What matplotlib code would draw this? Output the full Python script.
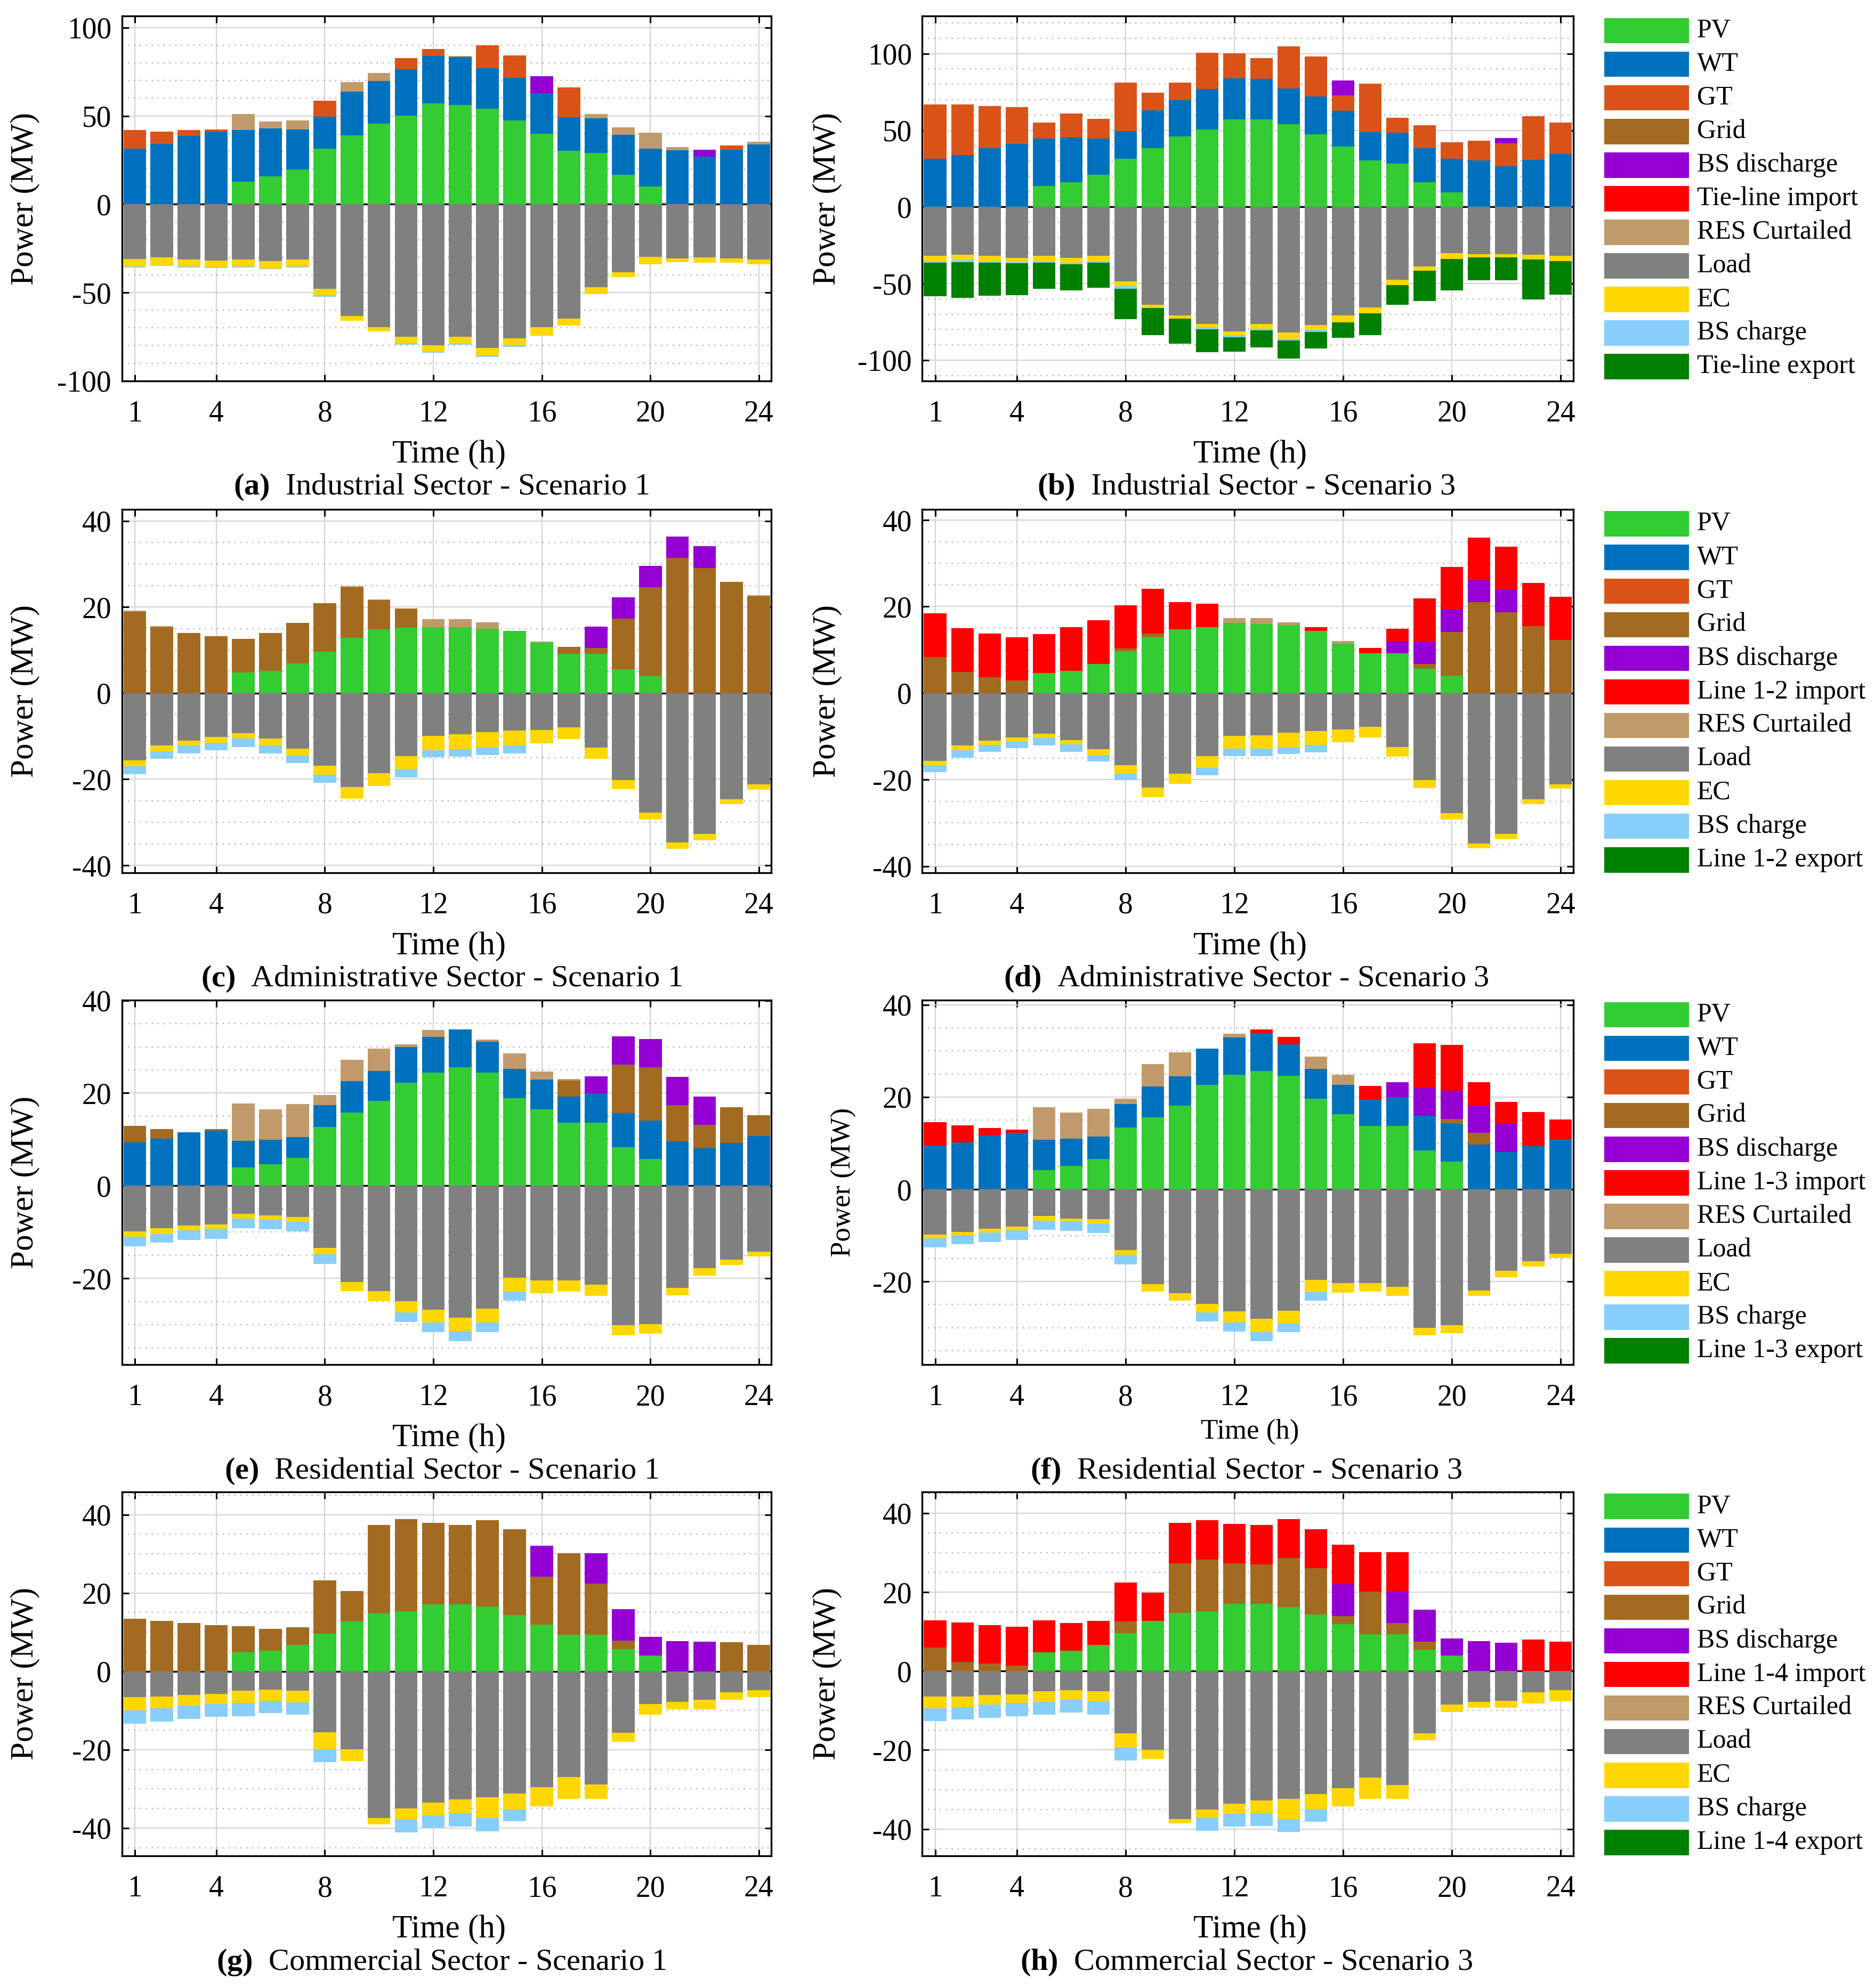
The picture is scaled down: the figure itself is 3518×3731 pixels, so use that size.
import matplotlib
matplotlib.use("Agg")
import matplotlib.pyplot as plt
from matplotlib.patches import Rectangle
from matplotlib.ticker import MultipleLocator
import numpy as np

plt.rcParams['font.family'] = ['Liberation Serif', 'DejaVu Serif']
plt.rcParams['axes.unicode_minus'] = False
plt.rcParams['mathtext.fontset'] = 'custom'
plt.rcParams['mathtext.rm'] = 'Liberation Serif'
plt.rcParams['mathtext.bf'] = 'Liberation Serif:bold'

hours = list(range(1, 25))
xticks = [1, 4, 8, 12, 16, 20, 24]

# ---------------- (a) Industrial Sector - Scenario 1 ----------------
a_pv = [0, 0, 0, 0, 12.9, 15.7, 19.8, 31.6, 38.9, 45.7, 50.3, 57.1, 56.2, 54.2, 47.5, 39.9, 30.3, 29.1, 16.8, 10.1, 0, 0, 0, 0]
a_wt = [31.6, 34.3, 38.8, 41.0, 29.1, 27.3, 22.6, 18.1, 24.8, 24.0, 26.2, 26.8, 27.0, 22.9, 24.1, 22.8, 19.0, 19.7, 22.4, 21.5, 30.5, 27.0, 30.9, 33.9]
a_gt = [10.4, 6.7, 3.2, 1.2, 0, 0, 0, 8.9, 0, 0, 6.3, 4.1, 0, 12.8, 12.6, 0, 16.9, 0, 0, 0, 0, 0, 2.3, 0]
a_bsdis = [0, 0, 0, 0, 0, 0, 0, 0, 0, 0, 0, 0, 0, 0, 0, 9.7, 0, 0, 0, 0, 0, 3.9, 0, 0]
a_curt = [0, 0, 0, 0, 9.2, 3.7, 5.0, 0, 5.6, 4.7, 0, 0, 0.8, 0, 0, 0, 0, 2.3, 4.2, 9.0, 1.8, 0, 0, 1.6]
a_load = [31.0, 30.0, 31.2, 32.0, 31.2, 32.1, 31.2, 47.8, 63.3, 69.5, 75.1, 79.9, 75.1, 81.3, 75.8, 69.5, 64.7, 47.1, 38.4, 29.8, 30.7, 30.0, 30.7, 31.2]
a_ec = [4.2, 4.5, 4.0, 3.6, 4.1, 4.2, 4.1, 3.7, 2.8, 2.4, 3.4, 3.5, 3.7, 4.2, 4.1, 4.9, 3.9, 3.7, 2.7, 4.1, 2.1, 3.1, 2.4, 2.7]
a_bsch = [0.7, 0.5, 0.7, 0.5, 0.5, 0.5, 0.5, 1.0, 0, 0, 1.0, 0.6, 0.8, 1.1, 1.0, 0, 0, 0, 0, 0, 0, 0, 0, 0]

# ---------------- (b) Industrial Sector - Scenario 3 ----------------
b_pv = [0, 0, 0, 0, 13.6, 16.0, 20.8, 31.5, 38.4, 45.9, 50.4, 57.1, 57.1, 54.1, 47.5, 39.5, 30.4, 28.3, 16.0, 9.6, 0, 0, 0, 0]
b_wt = [31.5, 33.9, 38.4, 41.1, 30.9, 29.3, 23.7, 18.1, 24.8, 23.7, 26.4, 26.9, 26.6, 23.2, 24.5, 23.2, 18.4, 20.0, 22.4, 21.9, 30.4, 26.4, 30.7, 34.4]
b_gt = [35.2, 33.1, 27.5, 24.0, 10.4, 15.5, 13.1, 31.5, 11.2, 11.5, 23.7, 16.3, 13.4, 27.5, 26.1, 10.1, 31.7, 9.8, 14.9, 10.6, 12.8, 15.2, 28.5, 20.5]
b_bsdis = [0, 0, 0, 0, 0, 0, 0, 0, 0, 0, 0, 0, 0, 0, 0, 9.6, 0, 0, 0, 0, 0, 3.5, 0, 0]
b_load = [32.0, 31.2, 32.0, 33.1, 32.0, 33.1, 32.0, 48.5, 64.0, 70.7, 76.3, 81.3, 76.3, 82.1, 77.1, 70.9, 65.6, 47.5, 38.9, 30.1, 30.9, 30.9, 31.2, 32.0]
b_ec = [3.2, 3.5, 3.2, 2.9, 3.2, 3.2, 3.2, 3.2, 2.1, 2.1, 2.1, 2.2, 3.2, 4.0, 3.2, 4.3, 3.7, 3.4, 2.7, 4.0, 1.9, 1.9, 3.2, 3.2]
b_bsch = [1.1, 1.3, 1.1, 0.8, 1.3, 1.0, 1.1, 1.6, 0, 0, 1.3, 1.6, 1.0, 1.1, 1.3, 0, 0, 0, 0, 0, 0, 0, 0, 0]
b_exp = [22.1, 23.2, 21.8, 20.8, 17.1, 17.1, 16.5, 20.0, 17.4, 16.3, 15.2, 9.3, 11.0, 11.7, 10.7, 10.1, 14.2, 13.1, 19.7, 20.3, 14.9, 14.9, 25.9, 21.9]

# ---------------- (c) Administrative Sector - Scenario 1 ----------------
c_pv = [0, 0, 0, 0, 4.8, 5.2, 6.9, 9.6, 12.8, 14.8, 15.2, 15.3, 15.3, 14.9, 14.5, 11.7, 9.2, 9.2, 5.6, 4.0, 0, 0, 0, 0]
c_grid = [18.9, 15.3, 14.0, 13.2, 7.8, 8.8, 9.4, 11.3, 11.8, 6.8, 4.4, 0, 0, 0, 0, 0, 1.6, 1.3, 11.7, 20.6, 31.4, 29.1, 25.9, 22.5]
c_bsdis = [0, 0, 0, 0, 0, 0, 0, 0, 0, 0, 0, 0, 0, 0, 0, 0, 0, 5.0, 5.0, 5.0, 5.0, 5.1, 0, 0]
c_curt = [0.3, 0.3, 0, 0, 0, 0, 0, 0, 0.3, 0.2, 0, 1.9, 1.9, 1.5, 0, 0.3, 0, 0, 0, 0, 0, 0, 0, 0.2]
c_load = [15.6, 12.1, 11.0, 10.2, 9.35, 10.6, 12.9, 16.9, 21.8, 18.6, 14.6, 9.9, 9.6, 9.1, 8.7, 8.5, 7.9, 12.7, 20.2, 27.7, 34.7, 32.7, 24.6, 21.2]
c_ec = [1.4, 1.4, 1.2, 1.3, 1.25, 1.5, 1.6, 2.1, 2.7, 3.0, 3.0, 3.3, 3.4, 3.4, 3.4, 3.1, 2.8, 2.6, 2.1, 1.7, 1.4, 1.5, 1.2, 1.2]
c_bsch = [1.8, 1.8, 1.8, 1.8, 1.9, 1.9, 1.7, 1.8, 0, 0, 2.0, 1.7, 1.8, 1.9, 1.9, 0, 0, 0, 0, 0, 0, 0, 0, 0]

# ---------------- (d) Administrative Sector - Scenario 3 ----------------
d_pv = [0, 0, 0, 0, 4.7, 5.2, 6.8, 9.7, 12.9, 14.8, 15.2, 16.2, 16.0, 15.8, 14.4, 11.5, 9.2, 9.2, 5.6, 4.1, 0, 0, 0, 0]
d_grid = [8.4, 4.9, 3.7, 2.9, 0, 0, 0, 0.6, 0.9, 0, 0, 0, 0, 0, 0, 0, 0, 0, 1.2, 10.0, 21.0, 18.7, 15.5, 12.3]
d_bsdis = [0, 0, 0, 0, 0, 0, 0, 0, 0, 0, 0, 0, 0, 0, 0, 0, 0, 2.7, 5.1, 5.3, 5.1, 5.3, 0, 0]
d_imp = [10.1, 10.1, 10.1, 10.0, 9.0, 10.0, 10.0, 10.0, 10.3, 6.3, 5.5, 0, 0, 0, 0.9, 0, 1.2, 3.0, 10.0, 9.8, 9.9, 9.8, 10.0, 10.0]
d_curt = [0, 0, 0, 0, 0, 0, 0, 0, 0, 0, 0, 1.1, 1.3, 0.6, 0, 0.6, 0, 0, 0, 0, 0, 0, 0, 0]
d_load = [15.6, 12.1, 11.0, 10.2, 9.4, 10.8, 12.9, 16.7, 21.8, 18.6, 14.5, 9.9, 9.7, 9.1, 8.8, 8.4, 7.8, 12.5, 20.1, 27.7, 34.8, 32.5, 24.5, 21.1]
d_ec = [1.0, 1.1, 1.0, 1.0, 1.0, 1.1, 1.4, 1.9, 2.2, 2.4, 2.8, 2.9, 3.1, 3.3, 3.2, 3.0, 2.5, 2.2, 1.8, 1.5, 1.1, 1.3, 1.1, 1.0]
d_bsch = [1.7, 1.7, 1.6, 1.5, 1.7, 1.7, 1.5, 1.5, 0, 0, 1.7, 1.7, 1.7, 1.7, 1.7, 0, 0, 0, 0, 0, 0, 0, 0, 0]

# ---------------- (e) Residential Sector - Scenario 1 ----------------
e_pv = [0, 0, 0, 0, 3.9, 4.6, 6.0, 12.7, 15.8, 18.3, 22.2, 24.4, 25.6, 24.4, 18.9, 16.5, 13.6, 13.6, 8.3, 5.8, 0, 0, 0, 0]
e_wt = [9.4, 10.2, 11.5, 11.9, 5.8, 5.3, 4.5, 4.7, 6.8, 6.5, 7.7, 7.7, 8.1, 6.7, 6.3, 6.4, 5.6, 6.3, 7.4, 8.3, 9.6, 8.1, 9.2, 10.7]
e_grid = [3.5, 2.0, 0, 0.3, 0, 0, 0, 0, 0, 0, 0, 0, 0, 0, 0, 0, 3.5, 0, 10.5, 11.5, 7.8, 5.1, 7.8, 4.5]
e_bsdis = [0, 0, 0, 0, 0, 0, 0, 0, 0, 0, 0, 0, 0, 0, 0, 0, 0, 3.7, 6.0, 6.1, 6.1, 6.0, 0, 0]
e_curt = [0, 0, 0, 0, 8.0, 6.6, 7.1, 2.2, 4.6, 4.8, 0.6, 1.5, 0, 0.5, 3.4, 1.7, 0.3, 0, 0, 0, 0, 0, 0, 0]
e_load = [9.8, 9.2, 8.6, 8.3, 6.1, 6.4, 6.7, 13.4, 20.8, 22.7, 24.9, 26.8, 28.5, 26.5, 19.8, 20.4, 20.4, 21.3, 30.1, 29.8, 22.0, 17.8, 15.9, 14.2]
e_ec = [1.2, 1.2, 1.0, 1.0, 1.0, 0.9, 1.1, 1.4, 1.9, 2.2, 2.4, 2.7, 2.9, 3.0, 3.0, 2.8, 2.4, 2.5, 2.2, 2.1, 1.6, 1.6, 1.2, 1.1]
e_bsch = [2.1, 1.9, 2.1, 2.1, 2.1, 2.1, 2.1, 2.1, 0, 0, 2.1, 2.1, 2.1, 2.1, 2.0, 0, 0, 0, 0, 0, 0, 0, 0, 0]

# ---------------- (f) Residential Sector - Scenario 3 ----------------
f_pv = [0, 0, 0, 0, 4.2, 5.1, 6.6, 13.4, 15.6, 18.2, 22.7, 24.9, 25.6, 24.6, 19.6, 16.3, 13.8, 13.8, 8.4, 6.0, 0, 0, 0, 0]
f_wt = [9.5, 10.2, 11.7, 12.3, 6.6, 5.9, 4.9, 5.1, 6.7, 6.3, 7.8, 8.0, 8.2, 6.8, 6.5, 6.4, 5.6, 6.2, 7.5, 8.2, 9.7, 8.1, 9.4, 10.9]
f_grid = [0, 0, 0, 0, 0, 0, 0, 0, 0, 0, 0, 0, 0, 0, 0, 0, 0, 0, 0, 1.0, 2.5, 0, 0, 0]
f_bsdis = [0, 0, 0, 0, 0, 0, 0, 0, 0, 0, 0, 0, 0, 0, 0, 0, 0, 3.2, 6.0, 6.2, 6.0, 6.1, 0, 0]
f_imp = [5.1, 3.7, 1.6, 0.6, 0, 0, 0, 0, 0, 0, 0, 0, 0.9, 1.6, 0, 0, 3.0, 0, 9.8, 9.9, 5.0, 4.7, 7.4, 4.2]
f_curt = [0, 0, 0, 0, 7.0, 5.7, 6.0, 1.1, 4.8, 5.2, 0, 0.8, 0, 0, 2.7, 2.1, 0, 0, 0, 0, 0, 0, 0, 0]
f_load = [9.8, 9.2, 8.5, 8.1, 5.8, 6.3, 6.5, 13.2, 20.6, 22.5, 24.8, 26.5, 28.1, 26.3, 19.6, 20.3, 20.3, 21.1, 30.0, 29.5, 21.9, 17.7, 15.6, 14.0]
f_ec = [0.8, 0.7, 0.9, 0.8, 1.0, 0.6, 1.0, 1.0, 1.6, 1.6, 1.9, 2.4, 2.8, 2.8, 2.7, 2.1, 1.9, 2.0, 1.6, 1.7, 1.2, 1.3, 1.1, 0.9]
f_bsch = [2.0, 2.0, 2.0, 2.1, 2.0, 2.1, 2.0, 2.1, 0, 0, 1.9, 1.9, 2.0, 1.8, 1.8, 0, 0, 0, 0, 0, 0, 0, 0, 0]

# ---------------- (g) Commercial Sector - Scenario 1 ----------------
g_pv = [0, 0, 0, 0, 4.8, 5.2, 6.8, 9.6, 12.7, 14.8, 15.3, 17.1, 17.1, 16.5, 14.4, 11.9, 9.3, 9.3, 5.7, 4.0, 0, 0, 0, 0]
g_grid = [13.4, 12.9, 12.3, 11.8, 6.7, 5.7, 4.5, 13.6, 7.8, 22.6, 23.6, 20.8, 20.3, 22.1, 21.9, 12.3, 20.9, 13.1, 2.2, 0, 0, 0, 7.4, 6.8]
g_bsdis = [0, 0, 0, 0, 0, 0, 0, 0, 0, 0, 0, 0, 0, 0, 0, 7.8, 0, 7.8, 8.0, 4.8, 7.7, 7.6, 0, 0]
g_load = [6.5, 6.4, 6.0, 5.7, 5.0, 4.6, 5.0, 15.6, 19.9, 37.5, 35.0, 33.5, 32.7, 32.2, 31.2, 29.6, 27.0, 28.9, 15.7, 8.3, 7.8, 7.3, 5.3, 4.8]
g_ec = [3.4, 3.0, 2.8, 2.6, 3.1, 2.9, 2.9, 4.3, 3.0, 1.6, 2.8, 3.2, 3.5, 5.3, 4.0, 4.8, 5.5, 3.6, 2.3, 2.7, 1.9, 2.4, 1.9, 1.8]
g_bsch = [3.4, 3.4, 3.3, 3.3, 3.3, 3.2, 3.2, 3.3, 0, 0, 3.3, 3.2, 3.4, 3.3, 3.1, 0, 0, 0, 0, 0, 0, 0, 0, 0]

# ---------------- (h) Commercial Sector - Scenario 3 ----------------
h_pv = [0, 0, 0, 0, 4.7, 5.2, 6.7, 9.6, 12.7, 14.8, 15.2, 17.1, 17.1, 16.3, 14.3, 11.9, 9.3, 9.3, 5.5, 3.9, 0, 0, 0, 0]
h_grid = [6.0, 2.4, 1.9, 1.4, 0, 0, 0, 3.0, 0, 12.5, 13.1, 10.2, 10.0, 12.3, 11.8, 2.1, 10.8, 2.9, 2.0, 0, 0, 0, 0, 0]
h_bsdis = [0, 0, 0, 0, 0, 0, 0, 0, 0, 0, 0, 0, 0, 0, 0, 8.1, 0, 7.9, 8.0, 4.4, 7.6, 7.2, 0, 0]
h_imp = [6.8, 9.9, 9.8, 9.8, 8.1, 7.0, 6.0, 9.9, 7.2, 10.2, 10.0, 10.0, 9.9, 9.9, 9.9, 9.9, 10.1, 10.1, 0, 0, 0, 0, 8.0, 7.5]
h_load = [6.5, 6.5, 6.0, 5.9, 5.1, 4.8, 5.1, 15.7, 20.0, 37.5, 35.0, 33.5, 32.7, 32.3, 31.2, 29.6, 27.0, 28.9, 15.7, 8.4, 7.8, 7.5, 5.3, 4.8]
h_ec = [2.9, 2.6, 2.5, 2.2, 2.7, 2.5, 2.5, 3.7, 2.2, 1.1, 2.1, 2.6, 3.3, 5.2, 3.7, 4.7, 5.3, 3.4, 1.8, 2.0, 1.5, 1.8, 2.9, 2.8]
h_bsch = [3.3, 3.1, 3.3, 3.3, 3.2, 3.2, 3.4, 3.3, 0, 0, 3.3, 3.3, 3.3, 3.2, 3.2, 0, 0, 0, 0, 0, 0, 0, 0, 0]

# ---------------- legend labels ----------------
legend_common_1 = ["PV", "WT", "GT", "Grid", "BS discharge"]
legend_common_2 = ["RES Curtailed", "Load", "EC", "BS charge"]
line_names = ["Tie-line", "Line 1-2", "Line 1-3", "Line 1-4"]

captions = [("(a)", "Industrial Sector - Scenario 1"), ("(b)", "Industrial Sector - Scenario 3"),
            ("(c)", "Administrative Sector - Scenario 1"), ("(d)", "Administrative Sector - Scenario 3"),
            ("(e)", "Residential Sector - Scenario 1"), ("(f)", "Residential Sector - Scenario 3"),
            ("(g)", "Commercial Sector - Scenario 1"), ("(h)", "Commercial Sector - Scenario 3")]

COLORS = {
    "PV": "#33CC33", "WT": "#0072BD", "GT": "#D95319", "Grid": "#A36A21",
    "BSdis": "#9400D3", "Imp": "#FF0000", "Curt": "#C19A6B",
    "Load": "#808080", "EC": "#FFD700", "BSch": "#87CEFA", "Exp": "#008000",
}
LEG_KEYS = ["PV", "WT", "GT", "Grid", "BSdis", "Imp", "Curt", "Load", "EC", "BSch", "Exp"]
POS_ORDER = ["PV", "WT", "GT", "Grid", "BSdis", "Imp", "Curt"]
NEG_ORDER = ["Load", "EC", "BSch", "Exp"]

panels = [
    dict(PV=a_pv, WT=a_wt, GT=a_gt, BSdis=a_bsdis, Curt=a_curt, Load=a_load, EC=a_ec, BSch=a_bsch),
    dict(PV=b_pv, WT=b_wt, GT=b_gt, BSdis=b_bsdis, Load=b_load, EC=b_ec, BSch=b_bsch, Exp=b_exp),
    dict(PV=c_pv, Grid=c_grid, BSdis=c_bsdis, Curt=c_curt, Load=c_load, EC=c_ec, BSch=c_bsch),
    dict(PV=d_pv, Grid=d_grid, BSdis=d_bsdis, Imp=d_imp, Curt=d_curt, Load=d_load, EC=d_ec, BSch=d_bsch),
    dict(PV=e_pv, WT=e_wt, Grid=e_grid, BSdis=e_bsdis, Curt=e_curt, Load=e_load, EC=e_ec, BSch=e_bsch),
    dict(PV=f_pv, WT=f_wt, Grid=f_grid, BSdis=f_bsdis, Imp=f_imp, Curt=f_curt, Load=f_load, EC=f_ec, BSch=f_bsch),
    dict(PV=g_pv, Grid=g_grid, BSdis=g_bsdis, Load=g_load, EC=g_ec, BSch=g_bsch),
    dict(PV=h_pv, Grid=h_grid, BSdis=h_bsdis, Imp=h_imp, Load=h_load, EC=h_ec, BSch=h_bsch),
]
ylims = [(-100, 106.5), (-113.5, 124.5), (-41.7, 42.7), (-41.5, 42.5),
         (-38.6, 40.05), (-38.0, 41.0), (-47.1, 45.8), (-46.8, 45.4)]

# ---------------- layout (reference px of a 1478x1568 view) ----------------
W, H = 1478.0, 1568.0
def fx(x): return x / W
def fy(y): return 1.0 - y / H

row_tb = [(12.7, 300.4), (401.7, 688.3), (788.9, 1076.3), (1176.7, 1463.8)]
col_lr = [(96.0, 608.0), (727.0, 1240.0)]

fig = plt.figure(figsize=(35.18, 37.31), dpi=100)

TICK_FS = 40
LABEL_FS = 44
CAP_FS = 42
LEG_FS = 36

for i, comp in enumerate(panels):
    r, c = divmod(i, 2)
    top, bot = row_tb[r]
    left, right = col_lr[c]
    ax = fig.add_axes([fx(left), fy(bot), (right - left) / W, (bot - top) / H])
    x = np.array(hours, dtype=float)
    pos = np.zeros(24)
    neg = np.zeros(24)
    for k in POS_ORDER:
        if k in comp:
            v = np.array(comp[k], dtype=float)
            ax.bar(x, v, 0.84, bottom=pos, color=COLORS[k], linewidth=0, zorder=3)
            pos += v
    for k in NEG_ORDER:
        if k in comp:
            v = -np.array(comp[k], dtype=float)
            ax.bar(x, v, 0.84, bottom=neg, color=COLORS[k], linewidth=0, zorder=3)
            neg += v
    ax.axhline(0, color="black", lw=2.4, zorder=2)
    ax.set_xlim(0.52, 24.46)
    ax.set_ylim(*ylims[i])
    ax.set_xticks(xticks)
    if r == 0:
        ax.yaxis.set_major_locator(MultipleLocator(50))
        ax.yaxis.set_minor_locator(MultipleLocator(10))
    else:
        ax.yaxis.set_major_locator(MultipleLocator(20))
        ax.yaxis.set_minor_locator(MultipleLocator(5))
    ax.set_axisbelow(True)
    ax.grid(True, which="major", color="#d4d4d4", lw=1.6)
    ax.yaxis.grid(True, which="minor", color="#a8a8a8", lw=1.6, linestyle=(0, (1, 4)))
    ax.tick_params(which="major", direction="in", top=True, right=True, length=9, width=2.2,
                   labelsize=TICK_FS)
    ax.tick_params(axis="x", which="major", pad=26)
    ax.tick_params(axis="y", which="major", pad=14)
    ax.tick_params(which="minor", length=0)
    for s in ax.spines.values():
        s.set_linewidth(2.4)

    # axis labels and caption
    cx = (left + right) / 2.0
    small = (i == 5)
    ylab_x = 20 if c == 0 else (665 if small else 652)
    fig.text(fx(ylab_x), fy((top + bot) / 2.0), "Power (MW)", rotation=90, ha="center", va="center",
             fontsize=(LABEL_FS - 6) if small else LABEL_FS)
    time_y = bot + (53 if small else 58)
    fig.text(fx(cx + 2), fy(time_y), "Time (h)", ha="center", va="center",
             fontsize=(LABEL_FS - 6) if small else LABEL_FS)
    lab, txt = captions[i]
    fig.text(fx(cx - 4 if c == 0 else cx - 1), fy(bot + 84), r"$\mathbf{" + lab + "}$  " + txt,
             ha="center", va="center", fontsize=CAP_FS)

# ---------------- legends ----------------
for r in range(4):
    top, bot = row_tb[r]
    labels = legend_common_1 + [line_names[r] + " import"] + legend_common_2 + [line_names[r] + " export"]
    for j, (key, lab) in enumerate(zip(LEG_KEYS, labels)):
        yc = top + 11.5 + 26.5 * j
        fig.patches.append(Rectangle((fx(1264.5), fy(yc + 10)), (1331.5 - 1264.5) / W, 20.0 / H,
                                     transform=fig.transFigure, facecolor=COLORS[key],
                                     edgecolor="none"))
        fig.text(fx(1337.5), fy(yc), lab, ha="left", va="center", fontsize=LEG_FS)

fig.savefig("out.png", dpi=100)
